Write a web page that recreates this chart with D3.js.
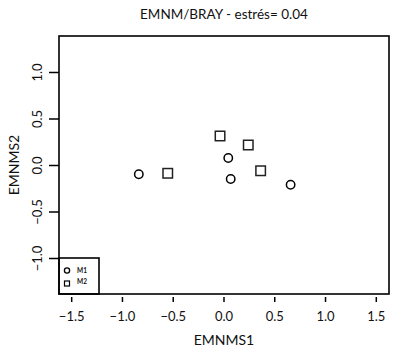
<!DOCTYPE html>
<html><head><meta charset="utf-8">
<script src="https://cdn.jsdelivr.net/npm/d3@7"></script>
<style>body{margin:0;background:#fff}svg{display:block}text{font-family:Lato,"Open Sans",sans-serif;fill:#111}</style>
</head><body><div id="c"></div>
<script>
const title = "EMNM/BRAY - estrés= 0.04";
const xLabel = "EMNMS1", yLabel = "EMNMS2";
const xTicks = [-1.5, -1.0, -0.5, 0.0, 0.5, 1.0, 1.5];
const yTicks = [-1.0, -0.5, 0.0, 0.5, 1.0];
const m1x = [-0.834, 0.047, 0.071, 0.661];
const m1y = [-0.10, 0.075, -0.15, -0.212];
const m2x = [-0.549, -0.034, 0.244, 0.366];
const m2y = [-0.089, 0.312, 0.215, -0.062];
const legendLabels = ["M1", "M2"];

const W = 394, H = 356;
const L = 59, R = 389, T = 36, B = 294;
const svg = d3.select("#c").append("svg").attr("width", W).attr("height", H);
const x = d3.scaleLinear().domain([-1.62, 1.63]).range([L, R]);
const y = d3.scaleLinear().domain([-1.387, 1.387]).range([B, T]);

svg.append("text").attr("x", 224).attr("y", 19).attr("text-anchor", "middle")
  .attr("font-size", 13.5).text(title);

// x axis (ticks detached below the box)
const xa = svg.append("g").attr("transform", `translate(0,${B + 3})`)
  .call(d3.axisBottom(x).tickValues(xTicks).tickSize(5).tickPadding(10).tickFormat(d3.format(".1f")));
xa.select(".domain").remove();
xa.selectAll("line").attr("stroke", "#000").attr("stroke-width", 1.5);
xa.selectAll("text").attr("font-size", 13).attr("font-family", "Lato, sans-serif").attr("fill", "#111");

// y axis
const ya = svg.append("g").attr("transform", `translate(${L},0)`)
  .call(d3.axisLeft(y).tickValues(yTicks).tickSize(10).tickPadding(0).tickFormat(d3.format(".1f")));
ya.select(".domain").remove();
ya.selectAll("line").attr("stroke", "#000").attr("stroke-width", 1.5);
ya.selectAll("text").remove();
ya.selectAll(".tick").append("text")
  .attr("transform", "translate(-22,0) rotate(-90)")
  .attr("text-anchor", "middle").attr("dy", "0.35em")
  .attr("font-size", 13).attr("font-family", "Lato, sans-serif").attr("fill", "#111")
  .text(d => d3.format(".1f")(d));

svg.append("text").attr("x", 224).attr("y", 345).attr("text-anchor", "middle")
  .attr("font-size", 14).text(xLabel);
svg.append("text").attr("transform", `translate(19,${(T + B) / 2}) rotate(-90)`)
  .attr("text-anchor", "middle").attr("font-size", 14).text(yLabel);

// box
svg.append("rect").attr("x", L).attr("y", T).attr("width", R - L).attr("height", B - T)
  .attr("fill", "none").attr("stroke", "#000").attr("stroke-width", 1.6);

// points
const m1 = m1x.map((v, i) => [v, m1y[i]]);
const m2 = m2x.map((v, i) => [v, m2y[i]]);
svg.selectAll(".c1").data(m1).enter().append("circle")
  .attr("cx", d => x(d[0])).attr("cy", d => y(d[1])).attr("r", 4.2)
  .attr("fill", "none").attr("stroke", "#000").attr("stroke-width", 1.5);
const s = 9.5;
svg.selectAll(".s2").data(m2).enter().append("rect")
  .attr("x", d => x(d[0]) - s / 2).attr("y", d => y(d[1]) - s / 2)
  .attr("width", s).attr("height", s)
  .attr("fill", "none").attr("stroke", "#222").attr("stroke-width", 1.5);

// legend
const lg = svg.append("g");
lg.append("rect").attr("x", L).attr("y", 258).attr("width", 40).attr("height", B - 258)
  .attr("fill", "none").attr("stroke", "#000").attr("stroke-width", 1.6);
lg.append("circle").attr("cx", 67).attr("cy", 270.5).attr("r", 2.6)
  .attr("fill", "none").attr("stroke", "#000").attr("stroke-width", 1.3);
lg.append("rect").attr("x", 64.5).attr("y", 281).attr("width", 5).attr("height", 5)
  .attr("fill", "none").attr("stroke", "#000").attr("stroke-width", 1.2);
legendLabels.forEach((t, i) => {
  lg.append("text").attr("x", 77).attr("y", 273 + i * 10.5).attr("font-size", 6.5)
    .attr("font-weight", "bold").text(t);
});
</script></body></html>
